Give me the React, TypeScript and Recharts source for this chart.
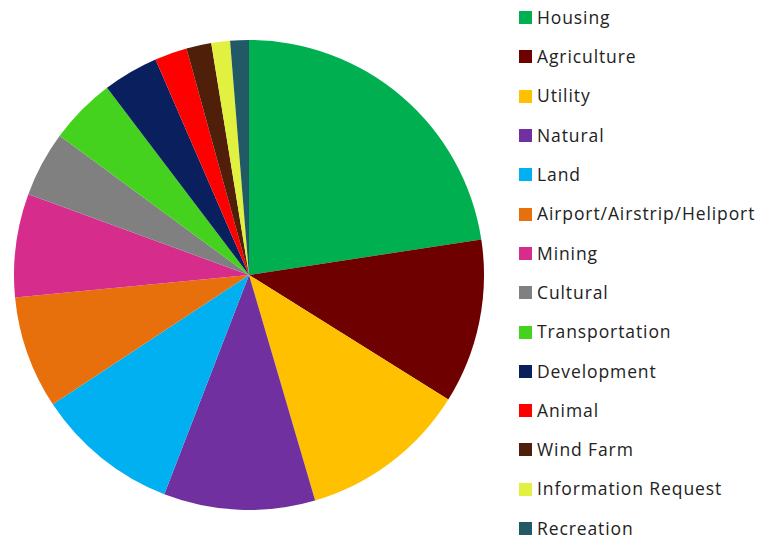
import { PieChart, Pie, Cell } from 'recharts'

const categories = [
  'Housing',
  'Agriculture',
  'Utility',
  'Natural',
  'Land',
  'Airport/Airstrip/Heliport',
  'Mining',
  'Cultural',
  'Transportation',
  'Development',
  'Animal',
  'Wind Farm',
  'Information Request',
  'Recreation'
]

const counts = [52.7, 26.4, 27, 24.3, 23, 18.1, 16.6, 10.5, 10.7, 8.9, 5.2, 4, 3, 3]

const COLORS = [
  '#00B050',
  '#6E0000',
  '#FFC000',
  '#7030A0',
  '#00B0F0',
  '#E8700C',
  '#D62D8C',
  '#808080',
  '#44D21E',
  '#0A1F5E',
  '#FF0000',
  '#4F1F0A',
  '#E2F040',
  '#215967'
]

const data = categories.map((name, i) => ({ name, value: counts[i] }))

export default function App() {
  return (
    <div style={{ position: 'absolute', left: 0, top: 0, width: 771, height: 541, background: '#fff' }}>
      <PieChart width={771} height={541} margin={{ top: 0, right: 0, bottom: 0, left: 0 }}>
        <Pie
          data={data}
          dataKey="value"
          nameKey="name"
          cx={249}
          cy={275}
          outerRadius={235}
          startAngle={90}
          endAngle={-270}
          stroke="none"
          isAnimationActive={false}
        >
          {data.map((entry, index) => (
            <Cell key={`cell-${entry.name}`} fill={COLORS[index]} />
          ))}
        </Pie>
      </PieChart>
      <div style={{ position: 'absolute', left: 519, top: -2, width: 252 }}>
        {categories.map((name, index) => (
          <div key={name} style={{ display: 'flex', alignItems: 'center', height: 39.3 }}>
            <div style={{ width: 13, height: 13, backgroundColor: COLORS[index], marginRight: 5 }} />
            <span
              style={{
                fontSize: 17.5,
                lineHeight: 1,
                letterSpacing: 0.9,
                color: '#222',
                fontFamily: '"Open Sans", sans-serif',
                whiteSpace: 'nowrap'
              }}
            >
              {name}
            </span>
          </div>
        ))}
      </div>
    </div>
  )
}
